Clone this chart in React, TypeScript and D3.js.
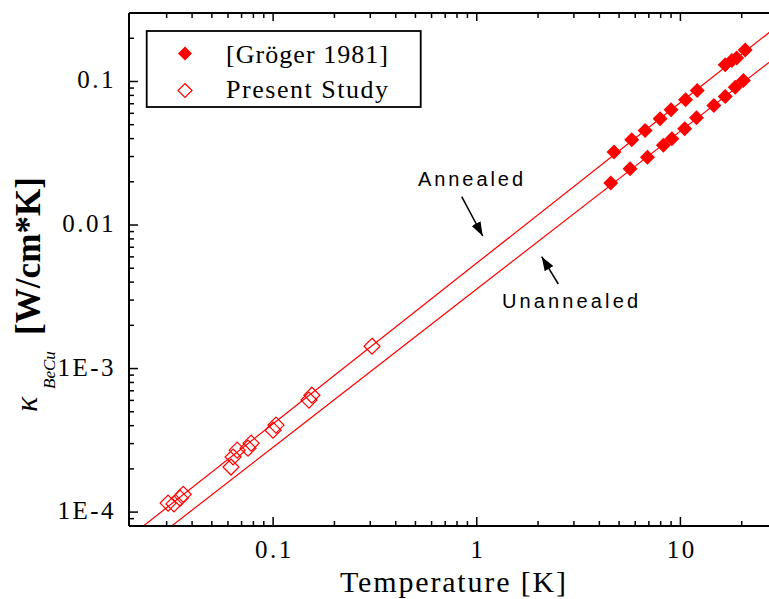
import React from "react";
import * as d3 from "d3";

// Gröger 1981 – annealed (upper) series
const grogerAnnealedT = [4.72, 5.77, 6.71, 7.95, 9.0, 10.6, 12.1, 16.6, 17.9, 18.9, 20.8];
const grogerAnnealedK = [0.0322, 0.0393, 0.0456, 0.055, 0.0636, 0.0746, 0.0866, 0.1307, 0.14, 0.146, 0.166];
// Gröger 1981 – unannealed (lower) series
const grogerUnannealedT = [4.55, 5.66, 6.89, 8.25, 9.08, 10.5, 12.0, 14.6, 16.6, 18.6, 20.4];
const grogerUnannealedK = [0.0196, 0.0247, 0.0297, 0.0359, 0.0399, 0.0469, 0.0559, 0.0681, 0.0786, 0.0913, 0.1016];
// Present study
const presentT = [0.0305, 0.0326, 0.0349, 0.0362, 0.0621, 0.0636, 0.0666, 0.0753, 0.078, 0.0999, 0.1033, 0.15, 0.155, 0.306];
const presentK = [1.156e-4, 1.14e-4, 1.25e-4, 1.33e-4, 2.06e-4, 2.42e-4, 2.7e-4, 2.79e-4, 3.02e-4, 3.72e-4, 4.04e-4, 6.03e-4, 6.52e-4, 1.43e-3];
// Fit lines
const fitT = [0.02, 0.1, 1, 10, 30];
const annealedFitK = [6.82e-5, 4.13e-4, 5.43e-3, 0.0714, 0.244];
const unannealedFitK = [4.81e-5, 2.83e-4, 3.58e-3, 0.0451, 0.151];

const xTickValues = [0.1, 1, 10];
const xTickLabels = ["0.1", "1", "10"];
const yTickValues = [0.1, 0.01, 1e-3, 1e-4];
const yTickLabels = ["0.1", "0.01", "1E-3", "1E-4"];
const legendLabels = ["[Gröger 1981]", "Present Study"];

const W = 769;
const H = 599;
const L = 129, T = 13, B = 526, R = 803;
const RED = "#ff0000";
const SERIF = "'Liberation Serif', 'Times New Roman', serif";
const SANS = "'Liberation Sans', Arial, sans-serif";

const x = d3.scaleLog().domain([0.0196, 40]).range([L, R]);
const y = d3.scaleLog().domain([8e-5, 0.3]).range([B, T]);

const diamond = (r: number) => `M0,${-r}L${r},0L0,${r}L${-r},0Z`;

function minorTicks(lo: number, hi: number) {
  const out: { v: number; major: boolean }[] = [];
  for (let e = -6; e <= 3; e++) {
    for (let m = 1; m <= 9; m++) {
      const v = m * Math.pow(10, e);
      if (v >= lo * 1.0001 && v <= hi * 0.9999) out.push({ v, major: m === 1 });
    }
  }
  return out;
}

export default function App() {
  const line = d3
    .line<[number, number]>()
    .x((d) => x(d[0]))
    .y((d) => y(d[1]));
  const annealedPts = fitT.map((t, i) => [t, annealedFitK[i]] as [number, number]);
  const unannealedPts = fitT.map((t, i) => [t, unannealedFitK[i]] as [number, number]);

  const xt = minorTicks(0.0196, 40).filter((t) => x(t.v) > L + 3);
  const yt = minorTicks(8e-5, 0.3);

  return (
    <svg
      width={W}
      height={H}
      style={{ position: "absolute", left: 0, top: 0, background: "#fff", overflow: "hidden" }}
    >
      <defs>
        <clipPath id="plot">
          <rect x={L} y={T} width={R - L} height={B - T} />
        </clipPath>
        <marker id="arrow" viewBox="0 0 14 10" refX="14" refY="5" markerWidth="14" markerHeight="10" markerUnits="userSpaceOnUse" orient="auto">
          <path d="M0,0L14,5L0,10Z" fill="#000" />
        </marker>
      </defs>
      <rect x={0} y={0} width={W} height={H} fill="#fff" />

      {/* fit lines */}
      <g clipPath="url(#plot)">
        <path d={line(annealedPts) || ""} fill="none" stroke={RED} strokeWidth={1.2} />
        <path d={line(unannealedPts) || ""} fill="none" stroke={RED} strokeWidth={1.2} />
      </g>

      {/* axes */}
      <g stroke="#000" strokeWidth={2} fill="none">
        <line x1={L} y1={T} x2={R} y2={T} />
        <line x1={L} y1={B} x2={R} y2={B} />
        <line x1={L} y1={T} x2={L} y2={B} />
        {xt.map((t, i) => (
          <g key={"xt" + i} strokeWidth={1.5}>
            <line x1={x(t.v)} x2={x(t.v)} y1={B} y2={B - (t.major ? 9 : 5)} />
            <line x1={x(t.v)} x2={x(t.v)} y1={T} y2={T + (t.major ? 8 : 5)} />
          </g>
        ))}
        {yt.map((t, i) => (
          <line key={"yt" + i} strokeWidth={1.5} x1={L} x2={L + (t.major ? 9 : 5)} y1={y(t.v)} y2={y(t.v)} />
        ))}
      </g>

      {/* tick labels */}
      <g fontFamily={SERIF} fontSize={25} fill="#000" letterSpacing={2.5}>
        {xTickValues.map((v, i) => (
          <text key={"xl" + i} x={x(v) + 1.25} y={558} textAnchor="middle">
            {xTickLabels[i]}
          </text>
        ))}
        {yTickValues.map((v, i) => (
          <text key={"yl" + i} x={116} y={y(v) + 7} textAnchor="end">
            {yTickLabels[i]}
          </text>
        ))}
      </g>

      {/* axis titles */}
      <text x={340} y={592} fontFamily={SERIF} fontSize={30} textLength={226} lengthAdjust="spacing">
        Temperature [K]
      </text>
      <g transform="rotate(-90)">
        <text x={-412} y={37} fontFamily={SERIF} fontSize={32} fontStyle="italic">κ</text>
        <text x={-389} y={55} fontFamily={SERIF} fontSize={17} fontStyle="italic">BeCu</text>
        <text x={-335} y={40} fontFamily={SERIF} fontSize={35} fontWeight="bold" textLength={158} lengthAdjust="spacing">
          [W/cm*K]
        </text>
      </g>

      {/* data */}
      <g fill={RED}>
        {grogerAnnealedT.map((t, i) => (
          <path key={"ga" + i} d={diamond(7.5)} transform={`translate(${x(t)},${y(grogerAnnealedK[i])})`} />
        ))}
        {grogerUnannealedT.map((t, i) => (
          <path key={"gu" + i} d={diamond(7.5)} transform={`translate(${x(t)},${y(grogerUnannealedK[i])})`} />
        ))}
      </g>
      <g fill="none" stroke={RED} strokeWidth={1.2}>
        {presentT.map((t, i) => (
          <path key={"ps" + i} d={diamond(8)} transform={`translate(${x(t)},${y(presentK[i])})`} />
        ))}
      </g>

      {/* annotations */}
      <text x={418} y={186} fontFamily={SANS} fontSize={20} textLength={105} lengthAdjust="spacing">Annealed</text>
      <line x1={461.7} y1={196.7} x2={482.7} y2={236} stroke="#000" strokeWidth={1.5} markerEnd="url(#arrow)" />
      <text x={502} y={308} fontFamily={SANS} fontSize={20} textLength={136} lengthAdjust="spacing">Unannealed</text>
      <line x1={558.3} y1={284} x2={541.7} y2={256.7} stroke="#000" strokeWidth={1.5} markerEnd="url(#arrow)" />

      {/* legend */}
      <rect x={146.7} y={31} width={274} height={76} fill="#fff" stroke="#000" strokeWidth={1.8} />
      <path d={diamond(7)} transform="translate(185,53.5)" fill={RED} />
      <path d={diamond(7)} transform="translate(185,90.5)" fill="none" stroke={RED} strokeWidth={1.2} />
      <text x={226} y={62.5} fontFamily={SERIF} fontSize={26} textLength={162} lengthAdjust="spacing">{legendLabels[0]}</text>
      <text x={226} y={98.3} fontFamily={SERIF} fontSize={26} textLength={162} lengthAdjust="spacing">{legendLabels[1]}</text>
    </svg>
  );
}
